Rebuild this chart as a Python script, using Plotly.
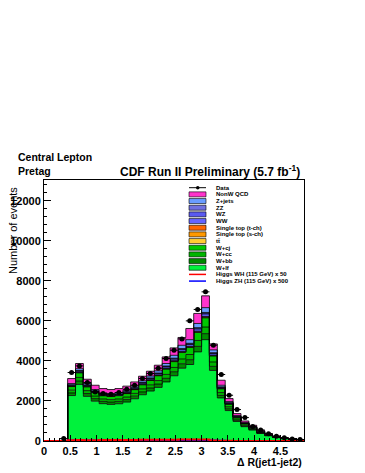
import numpy as np
import plotly.graph_objects as go

# bins of 0.15 in Delta R, first filled bin starts at 0.3
bin_lo = [0.3, 0.45, 0.6, 0.75, 0.9, 1.05, 1.2, 1.35, 1.5, 1.65, 1.8, 1.95, 2.1, 2.25, 2.4, 2.55,
          2.7, 2.85, 3.0, 3.15, 3.3, 3.45, 3.6, 3.75, 3.9, 4.05, 4.2, 4.35, 4.5, 4.65, 4.8]
bin_w = 0.15

data = [120, 3420, 3750, 2920, 2450, 2370, 2335, 2420, 2580, 2785, 3120, 3370, 3635, 4120, 4535, 5100,
        6000, 6570, 7450, 4785, 3320, 2285, 1570, 1170, 730, 550, 360, 235, 160, 100, 70]

w_lf = [25, 2270, 2825, 2230, 1990, 1864, 1829, 1860, 1945, 2110, 2311, 2496, 2678, 2950, 3259, 3637,
        3820, 4451, 5061, 3526, 2151, 1520, 977, 715, 545, 375, 260, 177, 118, 83, 50]
w_bb = [0, 130, 170, 140, 125, 115, 115, 117, 122, 130, 140, 150, 165, 180, 200, 220,
        240, 275, 300, 200, 125, 90, 58, 42, 32, 22, 15, 10, 7, 5, 3]
w_cc = [0, 140, 180, 145, 130, 120, 120, 122, 128, 138, 150, 160, 175, 195, 215, 240,
        260, 295, 330, 220, 140, 100, 65, 48, 36, 25, 17, 12, 8, 6, 3]
w_cj = [0, 180, 230, 190, 170, 160, 160, 165, 172, 185, 205, 220, 240, 265, 290, 325,
        350, 400, 460, 300, 190, 135, 90, 65, 50, 35, 24, 16, 11, 8, 5]
ttbar = [0, 10, 12, 10, 10, 10, 10, 11, 12, 13, 15, 16, 18, 20, 22, 25,
         27, 30, 32, 18, 12, 9, 6, 5, 4, 3, 2, 1, 1, 1, 0]
stop_s = [0, 5, 6, 5, 5, 5, 5, 5, 5, 5, 6, 6, 7, 8, 8, 9,
          10, 11, 12, 7, 4, 3, 2, 2, 1, 1, 1, 0, 0, 0, 0]
stop_t = [0, 10, 12, 10, 10, 9, 9, 9, 10, 11, 12, 13, 14, 16, 18, 20,
          22, 25, 28, 16, 10, 7, 5, 4, 3, 2, 2, 1, 1, 1, 0]
ww = [0, 40, 50, 42, 40, 38, 38, 40, 42, 45, 50, 55, 60, 68, 75, 85,
      92, 105, 120, 75, 45, 32, 20, 15, 12, 8, 6, 4, 3, 2, 1]
wz = [0, 15, 20, 16, 15, 14, 14, 14, 15, 16, 18, 20, 22, 25, 28, 32,
      35, 40, 45, 28, 16, 11, 7, 5, 4, 3, 2, 1, 1, 1, 0]
zz = [0, 10, 15, 12, 10, 10, 10, 10, 11, 12, 13, 14, 16, 18, 20, 22,
      24, 28, 32, 20, 12, 8, 5, 4, 3, 2, 1, 1, 1, 0, 0]
z_jets = [0, 60, 90, 70, 65, 60, 60, 62, 68, 75, 85, 95, 110, 125, 145, 165,
          180, 210, 240, 140, 80, 55, 35, 25, 20, 14, 10, 7, 5, 3, 2]
qcd = [5, 250, 260, 215, 215, 215, 200, 205, 210, 210, 230, 240, 280, 330, 370, 390,
       560, 500, 590, 300, 250, 150, 100, 70, 75, 45, 30, 20, 14, 10, 6]

# Higgs signal curves, drawn from 0
higgs_lo = [0.0, 0.15] + bin_lo
wh_x50 = [0, 0, 0, 40, 45, 42, 42, 45, 48, 50, 52, 55, 58, 60, 62, 65, 68, 70,
          72, 75, 78, 30, 15, 10, 6, 4, 3, 2, 1, 1, 0, 0, 0]
zh_x500 = [0, 0, 0, 25, 30, 28, 28, 30, 32, 33, 35, 37, 38, 40, 42, 44, 45, 47,
           48, 50, 52, 20, 10, 6, 4, 3, 2, 1, 1, 0, 0, 0, 0]

y_ticks = [0, 2000, 4000, 6000, 8000, 10000, 12000]
x_ticks = [0, 0.5, 1, 1.5, 2, 2.5, 3, 3.5, 4, 4.5]

# stack order bottom -> top
stack = [
    ("W+lf", w_lf, "#00f23c"),
    ("W+bb", w_bb, "#008a00"),
    ("W+cc", w_cc, "#00b400"),
    ("W+cj", w_cj, "#00c800"),
    ("tt", ttbar, "#ffcc33"),
    ("Single top (s-ch)", stop_s, "#ff9900"),
    ("Single top (t-ch)", stop_t, "#ff6600"),
    ("WW", ww, "#6464ff"),
    ("WZ", wz, "#5a5af0"),
    ("ZZ", zz, "#7070e0"),
    ("Z+jets", z_jets, "#6a9cff"),
    ("NonW QCD", qcd, "#ff33cc"),
]

# page body has an 8px margin, so the figure is drawn 8px in from the window corner
OFF = 8
L, R, T, B = 44, 304, 180, 441
W, H = 365 - OFF, 473 - OFF


def px(x):
    return (x - L) / (R - L)


def py(y):
    return (B - y) / (B - T)


edges = bin_lo + [round(bin_lo[-1] + bin_w, 2)]
fig = go.Figure()

level = np.zeros(len(bin_lo))
for i, (name, vals, col) in enumerate(stack):
    level = level + np.array(vals, dtype=float)
    ys = list(level) + [level[-1]]
    fig.add_trace(go.Scatter(
        x=edges, y=ys, mode='lines', line=dict(color='black', width=0.8, shape='hv'),
        fill='tozeroy' if i == 0 else 'tonexty', fillcolor=col, name=name, showlegend=False,
        hoverinfo='skip'))

h_edges = higgs_lo + [edges[-1]]
fig.add_trace(go.Scatter(x=h_edges, y=zh_x500 + [zh_x500[-1]], mode='lines',
                         line=dict(color='#0000ff', width=2, shape='hv'), showlegend=False))
fig.add_trace(go.Scatter(x=h_edges, y=wh_x50 + [wh_x50[-1]], mode='lines',
                         line=dict(color='#ff0000', width=2, shape='hv'), showlegend=False))

centers = [round(b + bin_w / 2, 3) for b in bin_lo]
fig.add_trace(go.Scatter(
    x=centers, y=data, mode='markers', marker=dict(color='black', size=5),
    error_x=dict(type='constant', value=bin_w / 2, width=0, thickness=1, color='black'),
    error_y=dict(type='sqrt', width=0, thickness=1, color='black'),
    showlegend=False))

font_main = "Liberation Sans, Arial, Helvetica, sans-serif"

fig.update_layout(
    width=W, height=H,
    margin=dict(l=L - OFF, r=365 - R, t=T - OFF, b=473 - B, autoexpand=False),
    plot_bgcolor='white', paper_bgcolor='white', showlegend=False,
    font=dict(family=font_main, color='black'),
    xaxis=dict(range=[0, 4.95], tickvals=x_ticks, ticktext=[f"{v:g}" for v in x_ticks],
               ticks='inside', ticklen=6, tickcolor='black', showgrid=False, zeroline=False,
               showline=True, linecolor='black', linewidth=1, mirror=True, automargin=False,
               tickfont=dict(family=font_main, size=11, weight='bold'),
               minor=dict(dtick=0.1, ticks='inside', ticklen=3, tickcolor='black')),
    yaxis=dict(range=[0, 13035], tickvals=y_ticks, ticktext=[str(v) for v in y_ticks],
               ticks='inside', ticklen=7, tickcolor='black', automargin=False,
               showgrid=False, zeroline=False, showline=True, linecolor='black', linewidth=1,
               mirror=True, tickfont=dict(family=font_main, size=11, weight='bold'),
               minor=dict(dtick=400, ticks='inside', ticklen=3, tickcolor='black')),
)

ann = []
ann.append(dict(text="Central Lepton", x=px(16), y=py(157), xanchor='left', yanchor='middle',
                font=dict(size=10.5, weight='bold')))
ann.append(dict(text="Pretag", x=px(16), y=py(171), xanchor='left', yanchor='middle',
                font=dict(size=10.5, weight='bold')))
ann.append(dict(text="CDF Run II Preliminary (5.7 fb<sup>-1</sup>)", x=px(210), y=py(171),
                xanchor='center', yanchor='middle', font=dict(size=12, weight='bold')))
ann.append(dict(text="Number of events", x=px(13), y=py(231), textangle=-90,
                xanchor='center', yanchor='middle', font=dict(size=11)))
ann.append(dict(text="Δ R(jet1-jet2)", x=px(304), y=py(462), xanchor='right', yanchor='middle',
                font=dict(size=10.5, weight='bold')))

# hand-drawn legend (ROOT style, compact rows)
legend_rows = [("Data", None, "data"), ("NonW QCD", "#ff33cc", "box"), ("Z+jets", "#6a9cff", "box"),
               ("ZZ", "#7070e0", "box"), ("WZ", "#5a5af0", "box"), ("WW", "#6464ff", "box"),
               ("Single top (t-ch)", "#ff6600", "box"), ("Single top (s-ch)", "#ff9900", "box"),
               ("tt̄", "#ffcc33", "box"), ("W+cj", "#00c800", "box"), ("W+cc", "#00b400", "box"),
               ("W+bb", "#008a00", "box"), ("W+lf", "#00f23c", "box"),
               ("Higgs WH (115 GeV) x 50", "#ff0000", "line"),
               ("Higgs ZH (115 GeV) x 500", "#0000ff", "line")]
shapes = []
y0 = 187.7
dy = 6.67
for i, (lab, col, kind) in enumerate(legend_rows):
    yc = y0 + i * dy
    if kind == "box":
        shapes.append(dict(type='rect', xref='paper', yref='paper', x0=px(189), x1=px(206),
                           y0=py(yc + 2.5), y1=py(yc - 2.5), fillcolor=col,
                           line=dict(color='black', width=0.6)))
    elif kind == "line":
        shapes.append(dict(type='line', xref='paper', yref='paper', x0=px(189), x1=px(206),
                           y0=py(yc), y1=py(yc), line=dict(color=col, width=1.5)))
    else:
        shapes.append(dict(type='line', xref='paper', yref='paper', x0=px(189), x1=px(206),
                           y0=py(yc), y1=py(yc), line=dict(color='black', width=1)))
        shapes.append(dict(type='circle', xref='paper', yref='paper', x0=px(196), x1=px(199.5),
                           y0=py(yc + 1.75), y1=py(yc - 1.75), fillcolor='black',
                           line=dict(color='black', width=0)))
    ann.append(dict(text=lab, x=px(214), y=py(yc), xanchor='left', yanchor='middle',
                    font=dict(size=6, weight='bold')))

for a in ann:
    a.update(xref='paper', yref='paper', showarrow=False)
fig.update_layout(annotations=ann, shapes=shapes)

fig.write_html("out.html")
